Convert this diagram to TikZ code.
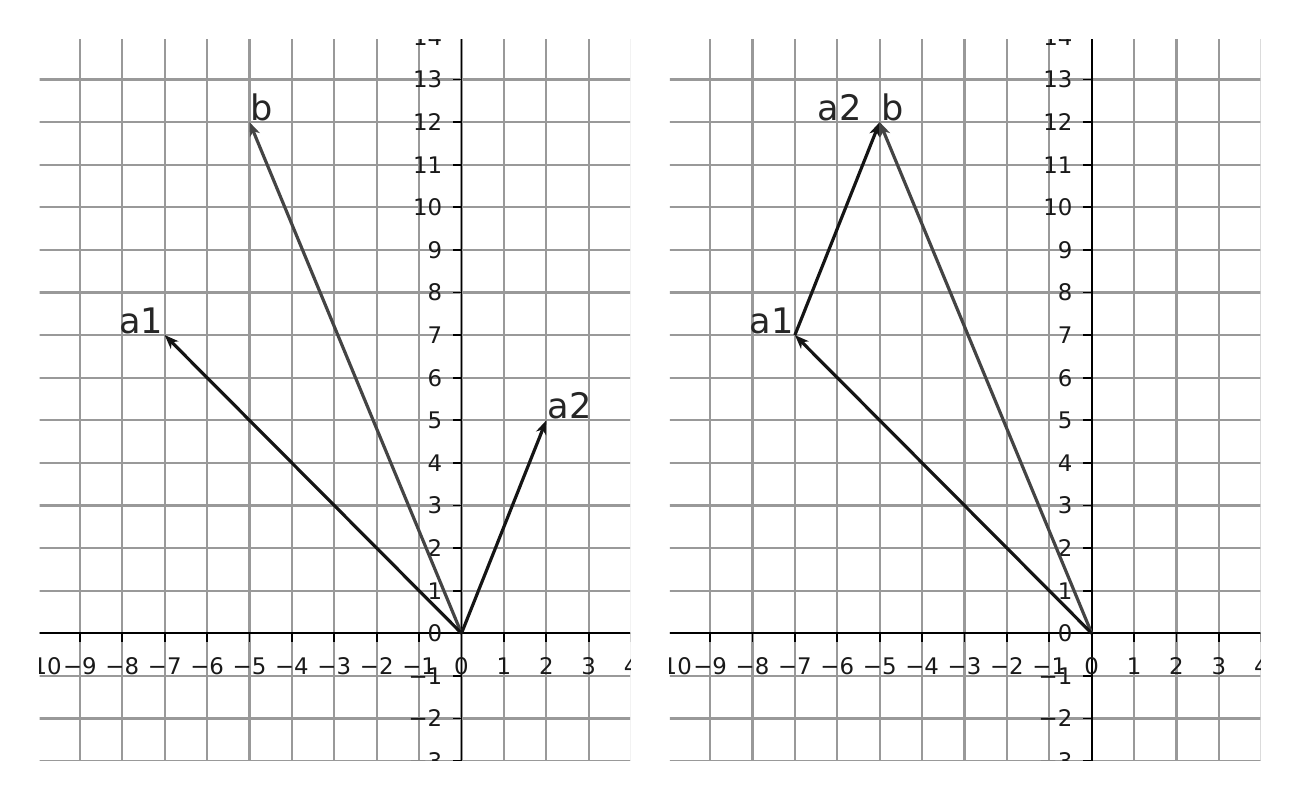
\documentclass[tikz,border=0pt]{standalone}
\usepackage{fontspec}
\setmainfont{DejaVu Sans}
\usetikzlibrary{arrows.meta}
\definecolor{gridgray}{HTML}{999999}
\definecolor{bgray}{HTML}{444444}
\definecolor{vecblack}{HTML}{151515}
\newcommand\sgnlab[1]{\ifnum#1<0 −\number-#1\else#1\fi}
\tikzset{
  gridline/.style={draw=gridgray, line width=1.8pt},
  axisline/.style={draw=black, line width=1.6pt},
  ticklab/.style={inner sep=0pt, font=\fontsize{19.5}{22}\selectfont, text=black!90},
  veclab/.style={inner sep=1pt, font=\fontsize{30}{34}\selectfont, text=black!85},
  vecarrow/.style={line width=2.7pt, draw=vecblack,
    -{Stealth[length=0.42cm, width=0.32cm, inset=0.12cm]}},
  bvec/.style={vecarrow, draw=bgray, -{Stealth[length=0.42cm, width=0.32cm, inset=0.12cm, fill=bgray]}}
}
\newcommand\gridpanel[1]{%
  \begin{scope}
    \clip (-9.95,-2.975) rectangle (3.975,13.93);
    \foreach \i in {-10,...,4} {\draw[gridline] (\i,-4) -- (\i,15);}
    \foreach \j in {-3,...,14} {\draw[gridline] (-11,\j) -- (5,\j);}
    \draw[axisline] (-11,0) -- (5,0);
    \draw[axisline] (0,-4) -- (0,15);
    \foreach \i in {-10,...,4} {
      \draw[axisline] (\i,0) -- (\i,-0.21);
      \node[ticklab] (#1x\i) at (\i,-0.77) {\sgnlab{\i}};
    }
    \foreach \j in {-3,...,14} {
      \draw[axisline] (0,\j) -- (-0.21,\j);
      \node[ticklab, anchor=east] (#1y\j) at (-0.45,\j) {\sgnlab{\j}};
    }
  \end{scope}
  \coordinate (#1O) at (0,0);
  \coordinate (#1A) at (-7,7);
  \coordinate (#1B) at (-5,12);
}
\begin{document}
\begin{tikzpicture}[x=1.272cm, y=1.278cm]
\useasboundingbox[fill=white] (0cm,0cm) rectangle (39cm,24cm);
% left panel
\begin{scope}[shift={(13.845cm,5.001cm)}]
  \gridpanel{L}
  \coordinate (LC) at (2,5);
  \draw[bvec] (LO) -- (LB);
  \draw[vecarrow] (LO) -- (LA);
  \draw[vecarrow] (LO) -- (LC);
  \node[veclab, anchor=south west] (Lb) at (LB) {b};
  \node[veclab, anchor=south east] (La1) at (LA) {a1};
  \node[veclab, anchor=south west] (La2) at (LC) {a2};
\end{scope}
% right panel
\begin{scope}[shift={(32.751cm,5.001cm)}]
  \gridpanel{R}
  \draw[bvec] (RO) -- (RB);
  \draw[vecarrow] (RO) -- (RA);
  \draw[vecarrow] (RA) -- (RB);
  \node[veclab, anchor=south west] (Rb) at (RB) {b};
  \node[veclab, anchor=south east] (Ra1) at (RA) {a1};
  \node[veclab, anchor=south east] (Ra2) at ([xshift=-0.5cm]RB) {a2};
\end{scope}
\end{tikzpicture}
\end{document}
